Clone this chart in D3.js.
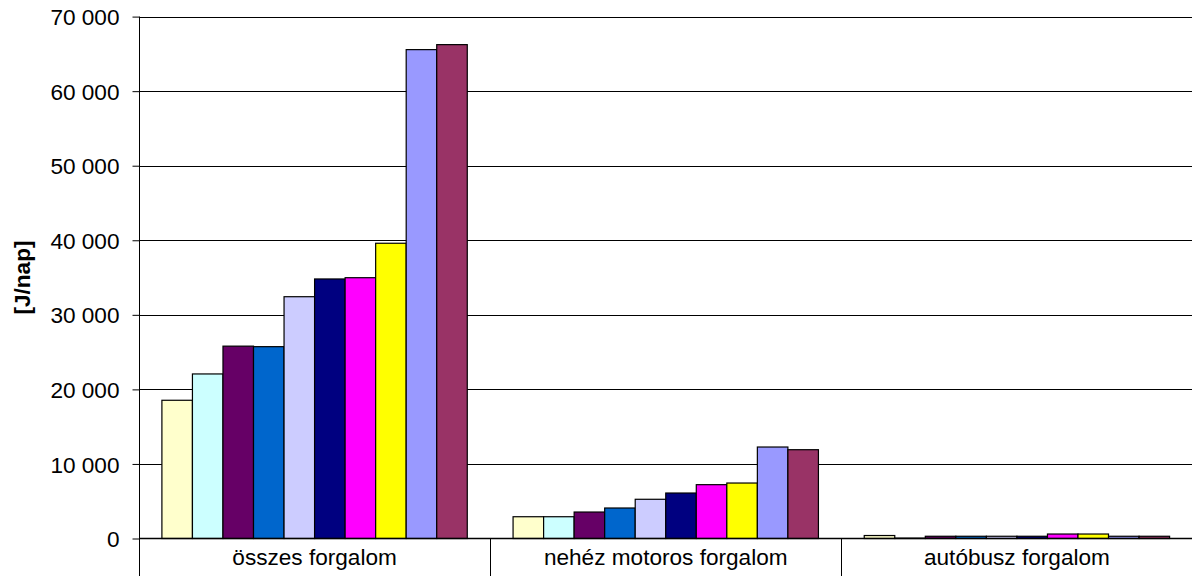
<!DOCTYPE html>
<html>
<head>
<meta charset="utf-8">
<script src="https://cdn.jsdelivr.net/npm/d3@7"></script>
<style>
  html, body { margin: 0; padding: 0; background: #fff; }
  svg { display: block; }
  text { font-family: "Liberation Sans", Arial, sans-serif; fill: #000; }
</style>
</head>
<body>
<svg id="chart" width="1192" height="576"></svg>
<script>
// Daily traffic volumes [J/nap] by traffic type, ten series per group
const categories = ["összes forgalom", "nehéz motoros forgalom", "autóbusz forgalom"];
const seriesKeys = ["s1", "s2", "s3", "s4", "s5", "s6", "s7", "s8", "s9", "s10"];
const seriesColors = ["#FFFFCC", "#CCFFFF", "#660066", "#0066CC", "#CCCCFF",
                      "#000080", "#FF00FF", "#FFFF00", "#9999FF", "#993366"];
const osszesValues   = [18540, 22070, 25800, 25730, 32430, 34810, 34980, 39600, 65570, 66240];
const nehezValues    = [2920, 2920, 3550, 4090, 5260, 6100, 7220, 7440, 12270, 11910];
const autobuszValues = [400, 50, 300, 300, 300, 300, 600, 600, 300, 300];
const yTicks = [0, 10000, 20000, 30000, 40000, 50000, 60000, 70000];
const yTitle = "[J/nap]";

const groupValues = [osszesValues, nehezValues, autobuszValues];

const svg = d3.select("#chart");
const plotLeft = 139, plotRight = 1192.5, plotTop = 16.6, plotBottom = 538.5, svgHeight = 576;

const x0 = d3.scaleBand().domain(categories).range([plotLeft, plotRight]).paddingInner(0).paddingOuter(0);
const x1 = d3.scaleBand().domain(seriesKeys).range([0, x0.bandwidth()]).paddingInner(0).paddingOuter(0.75);
const y = d3.scaleLinear().domain([0, 70000]).range([plotBottom, plotTop]);

const fmt = v => d3.format(",")(v).replace(/,/g, " ");

// horizontal gridlines
svg.append("g")
  .selectAll("line")
  .data(yTicks.filter(t => t > 0))
  .join("line")
  .attr("x1", plotLeft).attr("x2", 1192)
  .attr("y1", d => Math.round(y(d)) + 0.5).attr("y2", d => Math.round(y(d)) + 0.5)
  .attr("stroke", "#000").attr("stroke-width", 1);

// bars
const groups = svg.append("g")
  .selectAll("g")
  .data(categories.map((c, i) => ({ c, vals: groupValues[i] })))
  .join("g")
  .attr("transform", d => `translate(${x0(d.c)},0)`);

groups.selectAll("rect")
  .data(d => d.vals.map((v, j) => ({ key: seriesKeys[j], v, color: seriesColors[j] })))
  .join("rect")
  .attr("x", d => x1(d.key))
  .attr("width", x1.bandwidth())
  .attr("y", d => y(d.v))
  .attr("height", d => plotBottom - y(d.v))
  .attr("fill", d => d.color)
  .attr("stroke", "#000")
  .attr("stroke-width", 1.2);

// y axis
const yAxis = d3.axisLeft(y).tickValues(yTicks).tickFormat(fmt).tickSize(7).tickSizeOuter(0);
const ya = svg.append("g").attr("transform", `translate(${plotLeft + 0.5},0)`).call(yAxis);
ya.select(".domain").remove();
ya.selectAll(".tick line").attr("stroke", "#000");
ya.selectAll(".tick text")
  .attr("x", -20)
  .attr("dy", "0.36em")
  .style("font-size", "22.6px")
  .style("font-family", "\"Liberation Sans\", Arial, sans-serif");
svg.append("line")
  .attr("x1", plotLeft + 0.5).attr("x2", plotLeft + 0.5)
  .attr("y1", plotTop).attr("y2", svgHeight)
  .attr("stroke", "#000");

// category axis: baseline, separators and labels
svg.append("line")
  .attr("x1", plotLeft).attr("x2", 1192)
  .attr("y1", plotBottom).attr("y2", plotBottom)
  .attr("stroke", "#000").attr("stroke-width", 1.3);

svg.append("g")
  .selectAll("line")
  .data(categories.slice(1))
  .join("line")
  .attr("x1", d => Math.round(x0(d)) + 0.5).attr("x2", d => Math.round(x0(d)) + 0.5)
  .attr("y1", plotBottom).attr("y2", svgHeight)
  .attr("stroke", "#000");

svg.append("g")
  .selectAll("text")
  .data(categories)
  .join("text")
  .attr("x", d => x0(d) + x0.bandwidth() / 2)
  .attr("y", 565)
  .attr("text-anchor", "middle")
  .style("font-size", "22.6px")
  .text(d => d);

// y axis title
svg.append("text")
  .attr("transform", `translate(30,${(plotTop + plotBottom) / 2}) rotate(-90)`)
  .attr("text-anchor", "middle")
  .style("font-size", "22.6px")
  .style("font-weight", "bold")
  .text(yTitle);
</script>
</body>
</html>
